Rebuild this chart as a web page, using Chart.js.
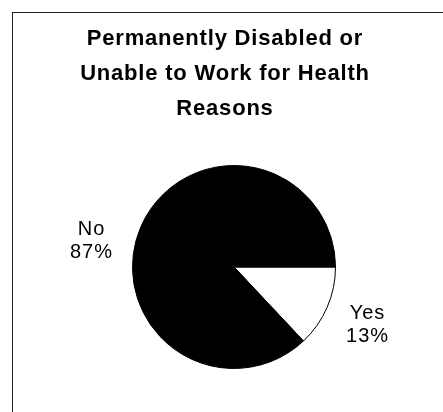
<!DOCTYPE html>
<html>
<head>
<meta charset="utf-8">
<script src="https://cdn.jsdelivr.net/npm/chart.js@4.4.0/dist/chart.umd.min.js"></script>
<style>
  html, body { margin: 0; padding: 0; background: #fff; overflow: hidden; }
  #frame { position: absolute; left: 12px; top: 12px; width: 470px; height: 430px; border: 1px solid #222; }
  #wrap { position: absolute; left: 0; top: 0; width: 430px; height: 399px; }
</style>
</head>
<body>
<div id="frame">
  <div id="wrap"><canvas id="pieChart"></canvas></div>
</div>
<script>
const categories = ['Yes', 'No'];
const shares = [13, 87];
const sliceColors = ['#ffffff', '#000000'];
const chartTitle = ['Permanently Disabled or', 'Unable to Work for Health', 'Reasons'];

const FONT = "'Liberation Sans', Arial, sans-serif";

// Name + percent labels outside each slice (Excel style)
const outsideLabels = {
  id: 'outsideLabels',
  afterDatasetsDraw(chart, args, opts) {
    const ctx = chart.ctx;
    const meta = chart.getDatasetMeta(0);
    const total = shares.reduce((a, b) => a + b, 0);
    ctx.save();
    ctx.letterSpacing = '1px';
    ctx.font = '20px ' + FONT;
    ctx.fillStyle = '#000';
    ctx.textAlign = 'center';
    ctx.textBaseline = 'middle';
    meta.data.forEach((arc, i) => {
      const p = arc.getProps(['x', 'y', 'startAngle', 'endAngle', 'outerRadius'], true);
      const mid = (p.startAngle + p.endAngle) / 2;
      const d = p.outerRadius + opts.gap;
      const nudge = opts.nudge[i] || [0, 0];
      const x = p.x + Math.cos(mid) * d + nudge[0];
      const y = p.y + Math.sin(mid) * d + nudge[1];
      const pct = Math.round(shares[i] / total * 100) + '%';
      ctx.fillText(categories[i], x, y - opts.lineHeight / 2);
      ctx.fillText(pct, x, y + opts.lineHeight / 2);
    });
    ctx.restore();
  }
};

// Title: slightly wider tracking, and centred a bit left of the pie
const titleTweak = {
  id: 'titleTweak',
  afterLayout(chart) { chart.titleBlock.left -= 18; },
  beforeDraw(chart) { chart.ctx.letterSpacing = '0.8px'; },
  afterDraw(chart) { chart.ctx.letterSpacing = '0px'; }
};

new Chart(document.getElementById('pieChart').getContext('2d'), {
  type: 'pie',
  data: {
    labels: categories,
    datasets: [{
      data: shares,
      backgroundColor: sliceColors,
      borderColor: '#000',
      borderWidth: 1
    }]
  },
  options: {
    responsive: true,
    maintainAspectRatio: false,
    animation: false,
    rotation: 90,  // first slice starts at 3 o'clock
    layout: { padding: { left: 12, right: 0, top: 0, bottom: 43 } },
    plugins: {
      legend: { display: false },
      tooltip: { enabled: false },
      title: {
        display: true,
        text: chartTitle,
        color: '#000',
        font: { family: FONT, size: 22, weight: 'bold', lineHeight: '35px' },
        padding: { top: 8, bottom: 39 }
      },
      outsideLabels: { gap: 44, lineHeight: 23, nudge: [[0, 0], [-9, 32]] }
    }
  },
  plugins: [outsideLabels, titleTweak]
});
</script>
</body>
</html>
